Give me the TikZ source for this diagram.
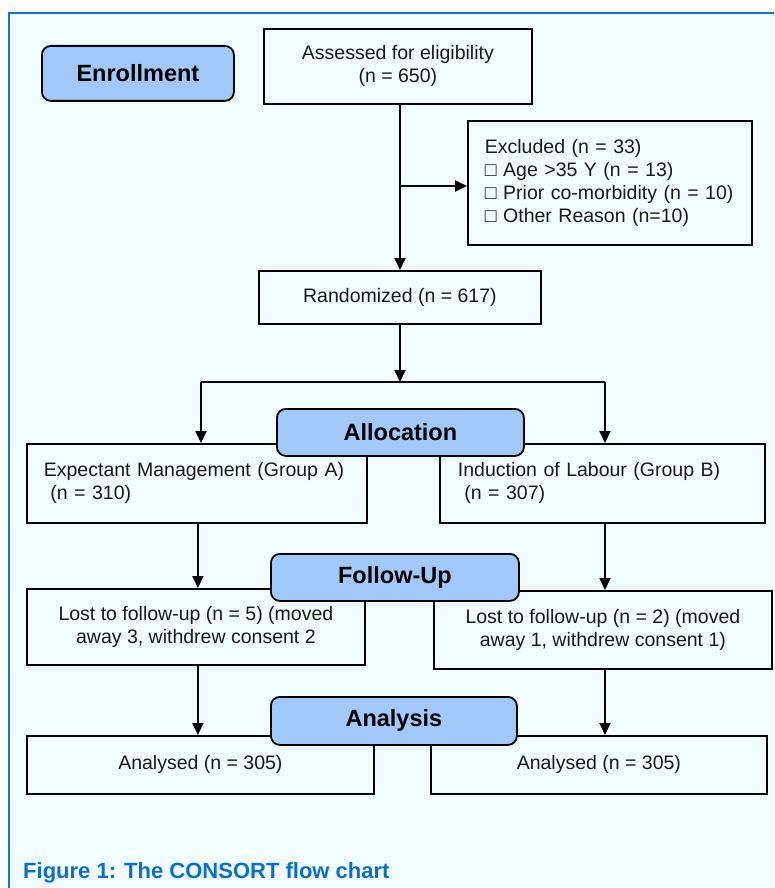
\documentclass[tikz,border=0pt]{standalone}
\usepackage{fontspec}
\setmainfont{Liberation Sans}
\usetikzlibrary{arrows.meta,positioning}
\definecolor{panelbg}{HTML}{F0FCFF}
\definecolor{panelrule}{HTML}{1177CC}
\definecolor{stagefill}{HTML}{A0C8F8}
\definecolor{captionblue}{HTML}{0A6FCC}
\definecolor{boxtext}{HTML}{1A1A1A}

\begin{document}
\begin{tikzpicture}[
  x=1pt, y=-1pt,
  box/.style={rectangle, draw, line width=1.8pt, text=boxtext, inner sep=0pt,
              anchor=north west, align=center, font=\fontsize{19.5}{23}\selectfont},
  leftbox/.style={box, align=left, inner xsep=17pt},
  stage/.style={rectangle, rounded corners=9pt, draw, line width=1.8pt, fill=stagefill,
                inner sep=0pt, anchor=north west, font=\fontsize{23.5}{27}\selectfont\bfseries},
  line/.style={line width=1.8pt},
  arr/.style={-{Triangle[length=12pt,width=11pt]}, line width=1.8pt},
]
  \useasboundingbox (0,0) rectangle (774,888);
  % panel
  \fill[panelbg] (9,13) rectangle (774,888);
  \draw[panelrule, line width=2.5pt] (9,888) -- (9,13) -- (774,13);

  % boxes
  \node[box, minimum width=268pt, minimum height=75pt] (assess) at (263,28)
    {Assessed for eligibility\\(n = 650)};
  \node[leftbox, text width=250pt, minimum height=124pt] (excl) at (467,120)
    {Excluded (n = 33)\\□ Age >35 Y (n = 13)\\□ Prior co-morbidity (n = 10)\\□ Other Reason (n=10)};
  \node[box, minimum width=282pt, minimum height=53pt] (rand) at (258,270)
    {Randomized (n = 617)};
  \node[leftbox, text width=306pt, minimum height=79pt] (grpA) at (26,443)
    {Expectant Management (Group A)\\\ (n = 310)};
  \node[leftbox, inner xsep=18pt, text width=289pt, minimum height=79pt] (grpB) at (439,443)
    {Induction of Labour (Group B)\\\ (n = 307)};
  \node[box, minimum width=338pt, minimum height=76pt] (lostA) at (26,588)
    {Lost to follow-up (n = 5) (moved\\away 3, withdrew consent 2};
  \node[box, minimum width=338pt, minimum height=78pt] (lostB) at (433,590)
    {Lost to follow-up (n = 2) (moved\\away 1, withdrew consent 1)};
  \node[box, minimum width=347pt, minimum height=58pt] (anaA) at (26,735)
    {Analysed (n = 305)};
  \node[box, minimum width=336pt, minimum height=58pt] (anaB) at (430,735)
    {Analysed (n = 305)};

  % connectors
  \coordinate (xbranch) at (400,186);
  \coordinate (split) at (400,382);
  \coordinate (splitA) at (201,382);
  \coordinate (splitB) at (605,382);
  \draw[arr] (assess.south -| split) -- (rand.north -| split);
  \draw[arr] (xbranch) -- (xbranch -| excl.west);
  \draw[arr] (rand.south -| split) -- (split);
  \draw[line] (splitA) -- (splitB);
  \draw[arr] (splitA) -- (splitA |- grpA.north);
  \draw[arr] (splitB) -- (splitB |- grpB.north);
  \draw[arr] ([xshift=1pt]grpA.south) -- ([xshift=1pt]grpA.south |- lostA.north);
  \draw[arr] (splitB |- grpB.south) -- (splitB |- lostB.north);
  \draw[arr] ([xshift=2pt]lostA.south) -- ([xshift=2pt]lostA.south |- anaA.north);
  \draw[arr] (splitB |- lostB.south) -- (splitB |- anaB.north);

  % stage labels
  \node[stage, minimum width=192pt, minimum height=55pt] (enroll) at (41,45) {Enrollment};
  \node[stage, minimum width=247pt, minimum height=47pt] (alloc) at (276,408) {Allocation};
  \node[stage, minimum width=248pt, minimum height=47pt] (follow) at (270,553) {Follow-Up};
  \node[stage, minimum width=246pt, minimum height=48pt] (analysis) at (270,696) {Analysis};

  \node[anchor=base west, text=captionblue, inner sep=0pt,
        font=\fontsize{22}{26}\selectfont\bfseries] (caption) at (23,878)
    {Figure 1: The CONSORT flow chart};
\end{tikzpicture}
\end{document}
